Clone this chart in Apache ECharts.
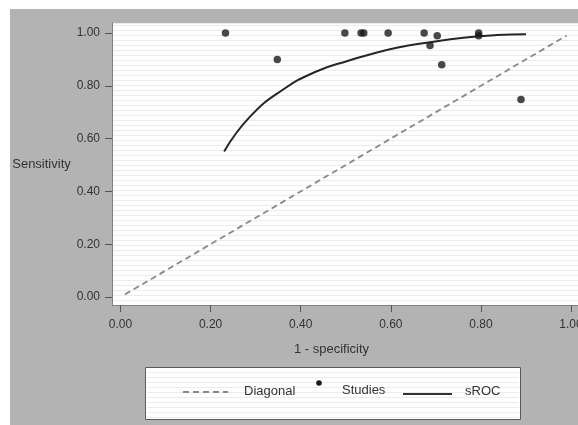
<!DOCTYPE html>
<html>
<head>
<meta charset="utf-8">
<script src="https://cdn.jsdelivr.net/npm/echarts@6/dist/echarts.min.js"></script>
<style>
html,body{margin:0;padding:0;background:#fff;}
#chart{width:578px;height:425px;}
</style>
</head>
<body>
<div id="chart"></div>
<script>
// Tick values
var xTicks = [0.00, 0.20, 0.40, 0.60, 0.80, 1.00];
var yTicks = [0.00, 0.20, 0.40, 0.60, 0.80, 1.00];

// Diagonal reference line
var diagX = [0.01, 0.99];
var diagY = [0.01, 0.99];

// Individual studies (1 - specificity, sensitivity)
var studiesX = [0.233, 0.348, 0.498, 0.534, 0.540, 0.594, 0.674, 0.687, 0.703, 0.713, 0.795, 0.795, 0.889];
var studiesY = [1.000, 0.900, 1.000, 1.000, 1.000, 1.000, 1.000, 0.953, 0.990, 0.880, 1.000, 0.990, 0.748];

// sROC curve
var rocX = [0.230, 0.288, 0.361, 0.436, 0.509, 0.539, 0.613, 0.687, 0.761, 0.835, 0.900];
var rocY = [0.551, 0.684, 0.786, 0.855, 0.897, 0.912, 0.944, 0.965, 0.982, 0.992, 0.995];

// Legend labels
var legendNames = ['Diagonal', 'Studies', 'sROC'];

function zip(a, b) { return a.map(function (v, i) { return [v, b[i]]; }); }

var chart = echarts.init(document.getElementById('chart'), null, {renderer: 'canvas'});
var txt = '#333';
var fnt = '"Liberation Sans", Arial, sans-serif';

// faint stripes inside the legend box (decoration)
var legendStripes = [];
for (var sy = 372; sy < 419; sy += 5) {
  legendStripes.push({ type: 'line', shape: { x1: 147, y1: sy + 0.5, x2: 519, y2: sy + 0.5 },
    style: { stroke: '#ececec', lineWidth: 1 } });
}

var legendChildren = [
  { type: 'rect', shape: { x: 145.5, y: 367.5, width: 375, height: 52 },
    style: { fill: '#ffffff', stroke: '#5a5a5a', lineWidth: 1 } }
].concat(legendStripes).concat([
  { type: 'line', shape: { x1: 183, y1: 392, x2: 228, y2: 392 },
    style: { stroke: '#888', lineWidth: 1.8, lineDash: [6, 4] } },
  { type: 'text', x: 244, y: 391,
    style: { text: legendNames[0], fill: txt, font: '13px ' + fnt, verticalAlign: 'middle' } },
  { type: 'circle', shape: { cx: 319, cy: 383, r: 2.8 }, style: { fill: '#1a1a1a' } },
  { type: 'text', x: 342, y: 390,
    style: { text: legendNames[1], fill: txt, font: '13px ' + fnt, verticalAlign: 'middle' } },
  { type: 'line', shape: { x1: 403, y1: 394, x2: 452, y2: 394 },
    style: { stroke: '#333', lineWidth: 2 } },
  { type: 'text', x: 465, y: 391,
    style: { text: legendNames[2], fill: txt, font: '13px ' + fnt, verticalAlign: 'middle' } }
]);

var option = {
  backgroundColor: '#ffffff',
  animation: false,
  graphic: [
    { type: 'rect', z: -100, silent: true,
      shape: { x: 10, y: 9, width: 568, height: 416 },
      style: { fill: '#b3b3b3' } },
    { type: 'group', z: 100, children: legendChildren }
  ],
  grid: [
    { left: 112, top: 23, right: 0, bottom: 120, outerBoundsMode: 'none', containLabel: false,
      show: true, backgroundColor: '#ffffff', borderWidth: 0 }
  ],
  xAxis: [
    { type: 'value', min: -0.0189, max: 1.0155,
      axisLine: { show: true, onZero: false, lineStyle: { color: '#808080', width: 1 } },
      axisTick: { show: true, inside: false, length: 7, customValues: xTicks, lineStyle: { color: '#555' } },
      axisLabel: { show: true, customValues: xTicks, margin: 14, color: txt, fontSize: 12, fontFamily: fnt,
        formatter: function (v) { return v.toFixed(2); } },
      splitLine: { show: false },
      name: '1 - specificity', nameLocation: 'middle', nameGap: 38,
      nameTextStyle: { color: txt, fontSize: 13, fontFamily: fnt, padding: [0, 27, 0, 0] } }
  ],
  yAxis: [
    { type: 'value', min: -0.0303, max: 1.0379,
      axisLine: { show: true, onZero: false, lineStyle: { color: '#808080', width: 1 } },
      axisTick: { show: true, inside: false, length: 7, customValues: yTicks, lineStyle: { color: '#555' } },
      axisLabel: { show: true, customValues: yTicks, margin: 12, color: txt, fontSize: 12,
        fontFamily: '"Liberation Sans Narrow", ' + fnt,
        formatter: function (v) { return v.toFixed(2); } },
      splitLine: { show: false },
      name: 'Sensitivity', nameLocation: 'middle', nameRotate: 0, nameGap: 40,
      nameTextStyle: { color: txt, fontSize: 13, fontFamily: fnt } },
    { type: 'value', min: 0, max: 282, interval: 5, position: 'left',
      axisLine: { show: false, onZero: false }, axisTick: { show: false }, axisLabel: { show: false },
      splitLine: { show: true, lineStyle: { color: '#ececec', width: 1 } } }
  ],
  series: [
    { name: legendNames[0], type: 'line',
      data: zip(diagX, diagY), symbol: 'none',
      lineStyle: { color: '#888', width: 1.8, type: [6, 4] }, z: 3 },
    { name: legendNames[2], type: 'line',
      data: zip(rocX, rocY), symbol: 'none', smooth: true,
      lineStyle: { color: '#262626', width: 2 }, z: 4 },
    { name: legendNames[1], type: 'scatter',
      data: zip(studiesX, studiesY), symbol: 'circle', symbolSize: 7.5,
      itemStyle: { color: '#1a1a1a' }, z: 5 }
  ]
};
chart.setOption(option);
</script>
</body>
</html>
